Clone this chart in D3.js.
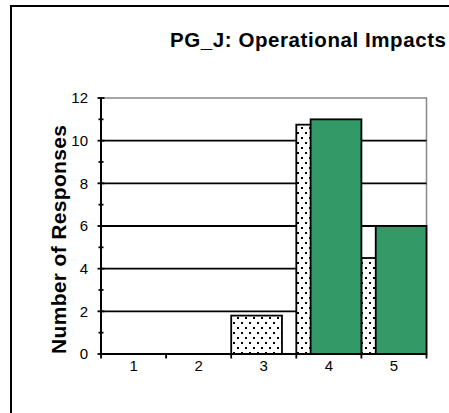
<!DOCTYPE html>
<html>
<head>
<meta charset="utf-8">
<script src="https://cdn.jsdelivr.net/npm/d3@7"></script>
<style>
  html, body { margin: 0; padding: 0; background: #fff; }
  svg { display: block; font-family: Arial, "Liberation Sans", sans-serif; }
</style>
</head>
<body>
<svg id="chart" width="449" height="413"></svg>
<script>
// Response counts per rating
const categories = ["1", "2", "3", "4", "5"];
const seriesDotted = [0, 0, 1.8, 10.75, 4.5];
const seriesGreen = [0, 0, 0, 11, 6];
const yTicks = [0, 2, 4, 6, 8, 10, 12];
const yMinorTicks = [1, 3, 5, 7, 9, 11];
const titleText = "PG_J: Operational Impacts";
const yLabelText = "Number of Responses";

const svg = d3.select("#chart");

// Outer chart frame (runs off the right and bottom edges)
svg.append("rect")
  .attr("x", 11).attr("y", 6)
  .attr("width", 460).attr("height", 430)
  .attr("fill", "none").attr("stroke", "#000").attr("stroke-width", 2);

const plot = { left: 101, right: 426.5, top: 98, bottom: 354 };

const x = d3.scaleBand().domain(categories).range([plot.left, plot.right]).padding(0);
const y = d3.scaleLinear().domain([0, 12]).range([plot.bottom, plot.top]);

const bw = x.bandwidth();
const barW = bw * 0.78;

// Dot fill pattern
const defs = svg.append("defs");
const pat = defs.append("pattern")
  .attr("id", "dots").attr("patternUnits", "userSpaceOnUse")
  .attr("width", 8).attr("height", 10);
pat.append("rect").attr("width", 8).attr("height", 10).attr("fill", "#fff");
pat.append("rect").attr("x", 1).attr("y", 2).attr("width", 2).attr("height", 2).attr("fill", "#000");
pat.append("rect").attr("x", 5).attr("y", 7).attr("width", 2).attr("height", 2).attr("fill", "#000");

// Plot area border
svg.append("rect")
  .attr("x", plot.left).attr("y", plot.top)
  .attr("width", plot.right - plot.left).attr("height", plot.bottom - plot.top)
  .attr("fill", "none").attr("stroke", "#888").attr("stroke-width", 1.5);

// Gridlines
svg.append("g").selectAll("line")
  .data(yTicks.filter(d => d > 0 && d < 12))
  .join("line")
  .attr("x1", plot.left).attr("x2", plot.right)
  .attr("y1", d => y(d)).attr("y2", d => y(d))
  .attr("stroke", "#000").attr("stroke-width", 1.8);

// Dotted series (left-aligned in each band)
svg.append("g").selectAll("rect")
  .data(categories.map((c, i) => ({ c, v: seriesDotted[i] })).filter(d => d.v > 0))
  .join("rect")
  .attr("x", d => x(d.c))
  .attr("y", d => y(d.v))
  .attr("width", barW)
  .attr("height", d => y(0) - y(d.v))
  .attr("fill", "url(#dots)")
  .attr("stroke", "#000").attr("stroke-width", 1.8);

// Green series (right-aligned in each band, drawn over the dotted bars)
svg.append("g").selectAll("rect")
  .data(categories.map((c, i) => ({ c, v: seriesGreen[i] })).filter(d => d.v > 0))
  .join("rect")
  .attr("x", d => x(d.c) + bw - barW)
  .attr("y", d => y(d.v))
  .attr("width", barW)
  .attr("height", d => y(0) - y(d.v))
  .attr("fill", "#339966")
  .attr("stroke", "#000").attr("stroke-width", 1.8);

// Y axis
const yAxis = svg.append("g");
yAxis.append("line")
  .attr("x1", plot.left).attr("x2", plot.left)
  .attr("y1", plot.top).attr("y2", plot.bottom)
  .attr("stroke", "#000").attr("stroke-width", 2);
yAxis.selectAll(".major").data(yTicks).join("line")
  .attr("class", "major")
  .attr("x1", plot.left - 3.5).attr("x2", plot.left + 3.5)
  .attr("y1", d => y(d)).attr("y2", d => y(d))
  .attr("stroke", "#000").attr("stroke-width", 1.8);
yAxis.selectAll(".minor").data(yMinorTicks).join("line")
  .attr("class", "minor")
  .attr("x1", plot.left - 2.5).attr("x2", plot.left + 2.5)
  .attr("y1", d => y(d)).attr("y2", d => y(d))
  .attr("stroke", "#000").attr("stroke-width", 1.8);
yAxis.selectAll("text").data(yTicks).join("text")
  .attr("x", 88).attr("y", d => y(d))
  .attr("dy", "0.36em")
  .attr("text-anchor", "end")
  .attr("font-size", 15)
  .text(d => d);

// X axis
const xAxis = svg.append("g");
xAxis.append("line")
  .attr("x1", plot.left).attr("x2", plot.right)
  .attr("y1", plot.bottom).attr("y2", plot.bottom)
  .attr("stroke", "#000").attr("stroke-width", 2);
const bounds = categories.map(c => x(c)).concat([x(categories[categories.length - 1]) + bw]);
xAxis.selectAll(".tick").data(bounds).join("line")
  .attr("class", "tick")
  .attr("x1", d => d).attr("x2", d => d)
  .attr("y1", plot.bottom).attr("y2", plot.bottom + 4.5)
  .attr("stroke", "#000").attr("stroke-width", 1.8);
xAxis.selectAll("text").data(categories).join("text")
  .attr("x", d => x(d) + bw / 2).attr("y", 371)
  .attr("text-anchor", "middle")
  .attr("font-size", 15)
  .text(d => d);

// Title
svg.append("text")
  .attr("x", 170).attr("y", 46.5)
  .attr("font-size", 20.5).attr("font-weight", "bold")
  .attr("textLength", 276).attr("lengthAdjust", "spacing")
  .text(titleText);

// Y axis title
svg.append("text")
  .attr("transform", "translate(66,354) rotate(-90)")
  .attr("font-size", 21).attr("font-weight", "bold")
  .attr("textLength", 229).attr("lengthAdjust", "spacing")
  .text(yLabelText);
</script>
</body>
</html>
